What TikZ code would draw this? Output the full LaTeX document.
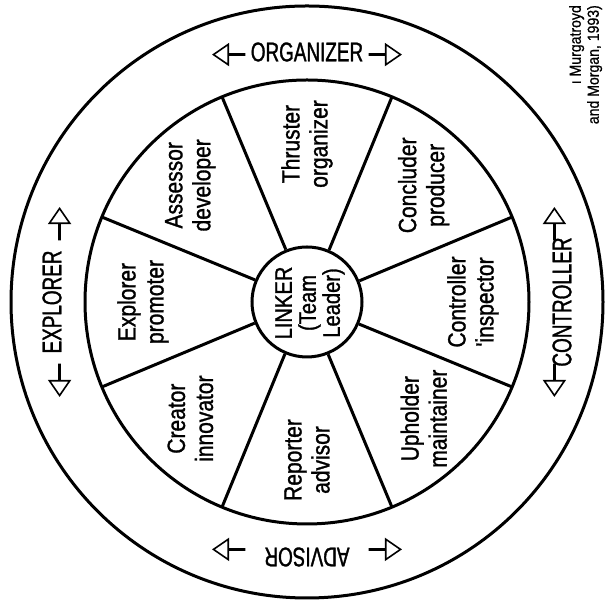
\documentclass[tikz,border=0pt]{standalone}
\usepackage{fontspec}
\setmainfont{Liberation Sans}
\newfontfamily\rolefont[FakeStretch=0.84, FakeBold=1.2]{Liberation Sans}
\newfontfamily\ringfont[FakeStretch=0.7, FakeBold=1.2]{Liberation Sans}
\newfontfamily\notefont[FakeStretch=0.88, FakeBold=0.8]{Liberation Sans}
\usetikzlibrary{arrows.meta,calc}

\begin{document}
\begin{tikzpicture}[x=1pt,y=1pt,
  wheel/.style={line width=3pt},
  role/.style={font=\rolefont\fontsize{25}{28}\selectfont, align=center,
    rotate=90, inner sep=0pt},
  ringlabel/.style={font=\ringfont\fontsize{27}{30}\selectfont, inner sep=0pt},
  pointer/.style={line width=2.8pt,
    -{Triangle[open, length=17pt, width=23pt, line width=1.6pt]}},
  source/.style={font=\notefont\fontsize{16}{18}\selectfont, align=right,
    rotate=90, inner sep=0pt},
]
\useasboundingbox (0,0) rectangle (606,601);
\coordinate (c) at (307,299);

% rings
\draw[wheel] (c) circle[radius=296];
\draw[wheel] (c) circle[radius=222];
\node[wheel, draw, circle, minimum size=110pt, inner sep=0pt] (hub) at (c) {};
\node[font=\rolefont\fontsize{24}{24}\selectfont, align=center, rotate=90,
  inner sep=0pt] (linker) at ($(c)+(3,-1)$) {LINKER\\(Team\\Leader)};

% spokes between the hub and the inner ring
\foreach \a [count=\i] in {22.5,67.5,...,337.5} {
  \coordinate (rim\i) at ($(c)+(\a:222)$);
  \draw[wheel] (hub.\a) -- (rim\i);
}

% role labels in the sectors
\node[role] (thruster)   at ($(c)+(90:158)$)  {Thruster\\organizer};
\node[role] (concluder)  at ($(c)+(45:165)$)  {Concluder\\producer};
\node[role] (controller) at ($(c)+(0:166)$)   {Controller\\'inspector};
\node[role] (upholder)   at ($(c)+(-45:165)$) {Upholder\\maintainer};
\node[role] (reporter)   at ($(c)+(-90:158)$) {Reporter\\advisor};
\node[role] (creator)    at ($(c)+(-135:165)$){Creator\\innovator};
\node[role] (explorer)   at ($(c)+(180:164)$) {Explorer\\promoter};
\node[role] (assessor)   at ($(c)+(135:165)$) {Assessor\\developer};

% labels in the outer ring
\node[ringlabel]             (organizerlbl)  at ($(c)+(90:250)$)  {ORGANIZER};
\node[ringlabel, rotate=90]  (controllerlbl) at ($(c)+(0:255)$)   {CONTROLLER};
\node[ringlabel, rotate=180] (advisorlbl)    at ($(c)+(270:255)$) {ADVISOR};
\node[ringlabel, rotate=90]  (explorerlbl)   at ($(c)+(180:255)$) {EXPLORER};

% open arrows on both sides of each ring label
\foreach \p/\n in {90/org, 0/con, 270/adv, 180/exp} {
  \coordinate (\n-ls) at ($(c)+(\p+14:255)$);
  \coordinate (\n-lt) at ($(c)+(\p+21:265)$);
  \coordinate (\n-rs) at ($(c)+(\p-14:255)$);
  \coordinate (\n-rt) at ($(c)+(\p-21:265)$);
  \draw[pointer] (\n-ls) -- (\n-lt);
  \draw[pointer] (\n-rs) -- (\n-rt);
}

% source note
\node[source, anchor=north east] (sourcenote) at (569,596)
  {ı Murgatroyd\\and Morgan, 1993)};
\end{tikzpicture}
\end{document}
